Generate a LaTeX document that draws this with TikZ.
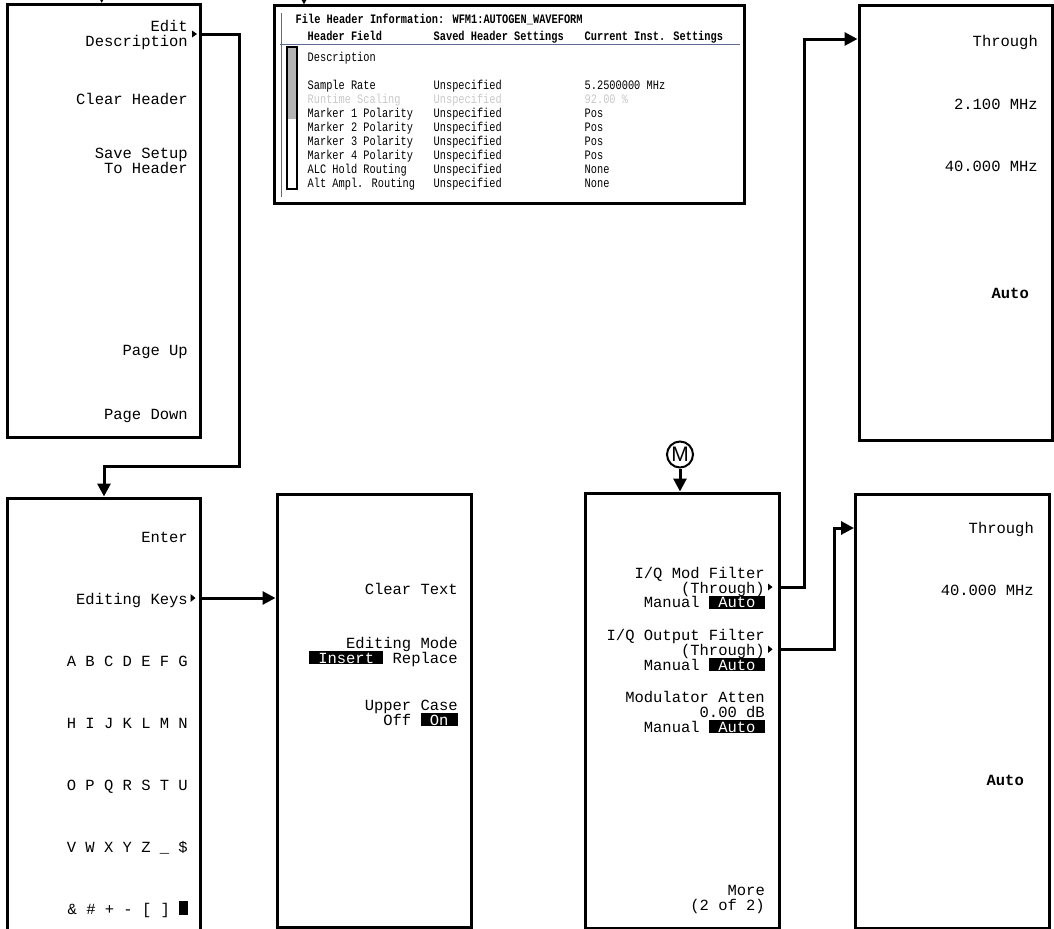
\documentclass[tikz,border=0pt]{standalone}
\usepackage{fontspec}
\newfontfamily\keyfont{Liberation Mono}
\newfontfamily\hdrfont[FakeStretch=0.8]{Liberation Mono}
\newfontfamily\msans{Liberation Sans}
\usetikzlibrary{arrows.meta}
\newcommand\invbox[1]{{\setbox0\hbox{\textcolor{white}{#1}}\rlap{\textcolor{black}{\rule[-1bp]{\wd0}{13bp}}}\box0}}
\definecolor{sepline}{RGB}{95,105,145}
\definecolor{dimtext}{RGB}{200,200,200}
\definecolor{scrollgray}{RGB}{180,180,180}
\begin{document}
\begin{tikzpicture}[x=1bp,y=-1bp,
  box/.style={draw, line width=3bp, inner sep=0pt},
  key/.style={font=\keyfont\fontsize{15.5bp}{15bp}\selectfont, anchor=base east, inner sep=0pt},
  keyb/.style={key, font=\keyfont\bfseries\fontsize{15.5bp}{15bp}\selectfont},
  hdr/.style={font=\hdrfont\fontsize{12.9bp}{13bp}\selectfont, anchor=base west, inner sep=0pt},
  hdrb/.style={hdr, font=\hdrfont\bfseries\fontsize{12.9bp}{13bp}\selectfont},
  conn/.style={line width=3bp, -{Triangle[length=13bp,width=13bp]}},
  hline/.style={draw=sepline, line width=0.9bp}]
\useasboundingbox (0,0) rectangle (1054,929);

% boxes
\node[box, minimum width=193bp, minimum height=433bp] (m1) at (104,221) {};
\node[box, minimum width=193bp, minimum height=447bp] (m2) at (104,721.5) {};
\node[box, minimum width=194.5bp, minimum height=432.5bp] (m3) at (374.25,710.75) {};
\node[box, minimum width=469.5bp, minimum height=197.5bp] (hd) at (509.25,104.75) {};
\node[box, minimum width=193.5bp, minimum height=434bp] (m5) at (955.75,223) {};
\node[box, minimum width=194bp, minimum height=435bp] (m6) at (682,710.5) {};
\node[box, minimum width=194bp, minimum height=433.5bp] (m7) at (952.5,711.25) {};
\node[draw, circle, line width=2bp, minimum size=26bp, inner sep=0pt,
      font=\msans\fontsize{21bp}{21bp}\selectfont] (mk) at (680,454.5) {M};

% connectors
\coordinate (in1) at (101.7,-20);
\coordinate (in4) at (304,-20);
\coordinate (y34) at (0,34);
\coordinate (yek) at (0,598);
\coordinate (yA) at (0,587);
\coordinate (yB) at (0,39);
\coordinate (yC) at (0,649);
\coordinate (yD) at (0,528);
\draw[conn] (in1) -- (in1 |- m1.north);
\draw[conn] (in4) -- (in4 |- hd.north);
\draw[conn] (m1.east |- y34) -- (239,34) -- (239,466.5) -| (m2.north);
\draw[conn] (m2.east |- yek) -- (m3.west |- yek);
\draw[conn] (m6.east |- yA) -- (804,587) |- (m5.west |- yB);
\draw[conn] (m6.east |- yC) -- (834.5,649) |- (m7.west |- yD);
\draw[conn] (mk.south) -- (mk.south |- m6.north);

% submenu markers
\fill (192,30.5) -- (197,34) -- (192,37.5) -- cycle;
\fill (190.5,594) -- (195.5,598) -- (190.5,602) -- cycle;
\fill (768,583.5) -- (772.5,587) -- (768,590.5) -- cycle;
\fill (768,645.5) -- (772.5,649.3) -- (768,653) -- cycle;

% menu 1
\node[key] (t1a) at (188,31.7) {Edit};
\node[key] (t1b) at (188,46.7) {Description};
\node[key] (t1c) at (188,104) {Clear Header};
\node[key] (t1d) at (188,158) {Save Setup};
\node[key] (t1e) at (188,173) {To Header};
\node[key] (t1f) at (188,355) {Page Up};
\node[key] (t1g) at (188,419) {Page Down};

% menu 2
\node[key] (t2a) at (188,542.3) {Enter};
\node[key] (t2b) at (188,604) {Editing Keys};
\node[key] (t2c) at (188,666) {A B C D E F G};
\node[key] (t2d) at (188,728.3) {H I J K L M N};
\node[key] (t2e) at (188,790) {O P Q R S T U};
\node[key] (t2f) at (188,852.3) {V W X Y Z \_ \$};
\node[key] (t2g) at (188,914) {\& \# + - [ ] \rule[-1bp]{8.5bp}{14bp}};

% menu 3
\node[key] (t3a) at (458,594.3) {Clear Text};
\node[key] (t3b) at (458,648.3) {Editing Mode};
\node[key] (t3c) at (458,663.3) {\invbox{\ Insert\ } Replace\ };
\node[key] (t3d) at (458,710.7) {Upper Case};
\node[key] (t3e) at (458,725) {Off \invbox{\ On\ }};

% menu 5
\node[key] (t5a) at (1038,46.7) {Through};
\node[key] (t5b) at (1038,109) {2.100 MHz};
\node[key] (t5c) at (1038,171.7) {40.000 MHz};
\node[keyb] (t5d) at (1029,298.3) {Auto};

% menu 6
\node[key] (t6a) at (765,578.3) {I/Q Mod Filter};
\node[key] (t6b) at (765,593.3) {(Through)};
\node[key] (t6c) at (765,607.7) {Manual \invbox{\ Auto\ }};
\node[key] (t6d) at (765,640) {I/Q Output Filter};
\node[key] (t6e) at (765,655) {(Through)};
\node[key] (t6f) at (765,670) {Manual \invbox{\ Auto\ }};
\node[key] (t6g) at (765,702.7) {Modulator Atten};
\node[key] (t6h) at (765,717.3) {0.00 dB};
\node[key] (t6i) at (765,732.3) {Manual \invbox{\ Auto\ }};
\node[key] (t6j) at (765,895.7) {More};
\node[key] (t6k) at (765,910) {(2 of 2)};

% menu 7
\node[key] (t7a) at (1034,533.3) {Through};
\node[key] (t7b) at (1034,595.7) {40.000 MHz};
\node[keyb] (t7c) at (1024,785) {Auto};

% header window
\draw[hline] (280,44) -- (740,44);
\draw[hline] (281,13) -- (281,197);
\fill[scrollgray] (287,47) rectangle (297,119);
\draw[line width=1.2bp] (287,47) rectangle (297,189);
\node[hdrb] (h0) at (295.5,23.3) {File Header Information: WFM1:AUTOGEN\_WAVEFORM};
\node[hdrb] (h1) at (307.5,40.7) {Header Field};
\node[hdrb] (h2) at (433.5,40.7) {Saved Header Settings};
\node[hdrb] (h3) at (584.5,40.7) {Current Inst. Settings};
\node[hdr] (r0) at (307.5,61) {Description};
\node[hdr] (r1a) at (307.5,89.3) {Sample Rate};
\node[hdr] (r1b) at (433.5,89.3) {Unspecified};
\node[hdr] (r1c) at (584.5,89.3) {5.2500000 MHz};
\node[hdr, text=dimtext] (r2a) at (307.5,103.3) {Runtime Scaling};
\node[hdr, text=dimtext] (r2b) at (433.5,103.3) {Unspecified};
\node[hdr, text=dimtext] (r2c) at (584.5,103.3) {92.00 \%};
\foreach \yy/\aa/\cc [count=\i from 3] in {117.3/Marker 1 Polarity/Pos, 131.3/Marker 2 Polarity/Pos, 145.3/Marker 3 Polarity/Pos, 159.3/Marker 4 Polarity/Pos, 173.3/ALC Hold Routing/None, 187.3/Alt Ampl. Routing/None}{
  \node[hdr] (r\i a) at (307.5,\yy) {\aa};
  \node[hdr] (r\i b) at (433.5,\yy) {Unspecified};
  \node[hdr] (r\i c) at (584.5,\yy) {\cc};
}
\end{tikzpicture}
\end{document}
